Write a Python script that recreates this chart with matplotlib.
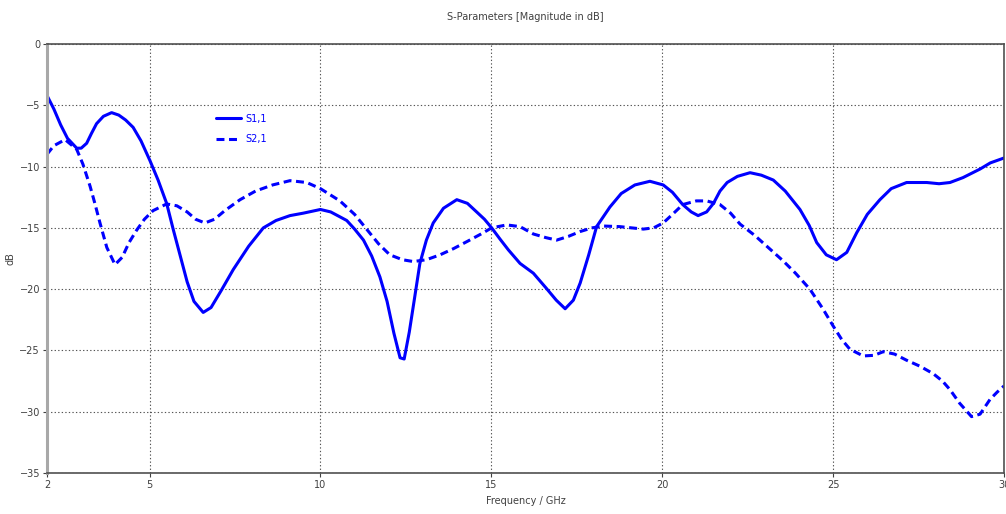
import numpy as np
import matplotlib
import matplotlib.pyplot as plt

matplotlib.use('Agg')

# S1,1 (GHz, dB)
f_s11 = [2.0, 2.2, 2.4, 2.6, 2.87, 3.0, 3.16, 3.3, 3.45, 3.65, 3.89, 4.1, 4.3, 4.52, 4.75,
         5.01, 5.25, 5.5, 5.7, 5.9, 6.1, 6.3, 6.57, 6.8, 7.1, 7.45, 7.9, 8.33, 8.7, 9.11,
         9.5, 10.0, 10.3, 10.57, 10.77, 11.0, 11.26, 11.5, 11.74, 11.95, 12.15, 12.33,
         12.45, 12.6, 12.75, 12.91, 13.1, 13.3, 13.6, 13.99, 14.3, 14.57, 14.8, 15.01,
         15.25, 15.5, 15.84, 16.23, 16.6, 16.9, 17.16, 17.4, 17.6, 17.85, 18.08, 18.47,
         18.8, 19.2, 19.64, 20.03, 20.3, 20.6, 20.85, 21.05, 21.3, 21.5, 21.69, 21.9,
         22.2, 22.57, 22.9, 23.25, 23.6, 24.03, 24.3, 24.52, 24.8, 25.1, 25.4, 25.69,
         26.0, 26.37, 26.7, 27.15, 27.74, 28.1, 28.42, 28.8, 29.3, 29.6, 30.0]
s11 = [-4.2, -5.3, -6.6, -7.7, -8.5, -8.5, -8.1, -7.3, -6.5, -5.9, -5.6, -5.8, -6.2, -6.8, -7.9,
       -9.5, -11.1, -13.0, -15.2, -17.3, -19.4, -21.0, -21.9, -21.5, -20.1, -18.4, -16.5,
       -15.0, -14.4, -14.0, -13.8, -13.5, -13.7, -14.1, -14.4, -15.1, -16.0, -17.3, -19.0,
       -21.0, -23.6, -25.6, -25.7, -23.5, -20.8, -17.9, -16.0, -14.6, -13.4, -12.7, -13.0,
       -13.7, -14.3, -15.0, -15.9, -16.8, -17.9, -18.7, -19.9, -20.9, -21.6, -20.9, -19.5,
       -17.2, -14.9, -13.3, -12.2, -11.5, -11.2, -11.5, -12.1, -13.1, -13.7, -14.0, -13.7,
       -13.0, -12.0, -11.3, -10.8, -10.5, -10.7, -11.1, -12.0, -13.5, -14.8, -16.2, -17.2,
       -17.6, -17.0, -15.4, -13.9, -12.7, -11.8, -11.3, -11.3, -11.4, -11.3, -10.9, -10.2,
       -9.7, -9.3]

# S2,1 (GHz, dB)
f_s21 = [2.0, 2.2, 2.53, 2.87, 3.05, 3.26, 3.4, 3.55, 3.75, 3.99, 4.2, 4.4, 4.62, 4.85,
         5.1, 5.5, 5.8, 6.1, 6.35, 6.62, 6.9, 7.2, 7.65, 8.1, 8.6, 9.11, 9.6, 10.0, 10.57,
         11.0, 11.35, 11.7, 12.03, 12.4, 12.72, 13.1, 13.5, 13.89, 14.3, 14.7, 15.01,
         15.45, 15.84, 16.23, 16.6, 16.91, 17.25, 17.6, 17.95, 18.28, 18.76, 19.1, 19.45,
         19.75, 20.03, 20.3, 20.6, 21.0, 21.3, 21.69, 22.0, 22.28, 22.7, 23.06, 23.54,
         23.9, 24.32, 24.7, 25.0, 25.25, 25.49, 25.88, 26.2, 26.47, 26.8, 27.15, 27.55,
         27.93, 28.2, 28.42, 28.7, 29.05, 29.3, 29.59, 29.8, 30.0]
s21 = [-9.0, -8.3, -7.8, -8.6, -9.8, -11.6, -13.0, -14.6, -16.6, -18.0, -17.4, -16.2, -15.2,
       -14.3, -13.6, -13.05, -13.2, -13.7, -14.3, -14.6, -14.3, -13.6, -12.7, -12.0, -11.5,
       -11.15, -11.3, -11.8, -12.8, -13.9, -15.1, -16.3, -17.2, -17.6, -17.75, -17.6, -17.2,
       -16.7, -16.1, -15.5, -15.0, -14.76, -14.9, -15.5, -15.8, -16.0, -15.7, -15.3, -15.0,
       -14.85, -14.9, -15.0, -15.1, -15.0, -14.6, -13.9, -13.1, -12.8, -12.8, -13.1, -13.8,
       -14.7, -15.6, -16.5, -17.7, -18.7, -20.0, -21.6, -23.0, -24.1, -24.9, -25.45, -25.4,
       -25.1, -25.3, -25.8, -26.3, -26.9, -27.5, -28.2, -29.3, -30.4, -30.2, -29.0, -28.4,
       -27.9]

x_ticks = [2, 5, 10, 15, 20, 25, 30]
y_ticks = [0, -5, -10, -15, -20, -25, -30, -35]

txt = '#404040'
fig = plt.figure(figsize=(10.06, 5.14), dpi=100)
ax = fig.add_axes([47 / 1006, 1 - 473 / 514, 957 / 1006, 429 / 514])

ax.plot(f_s11, s11, color='#0000ff', lw=2.2, label='S1,1', solid_capstyle='round')
ax.plot(f_s21, s21, color='#0000ff', lw=2.2, ls=(0, (2.6, 1.5)), label='S2,1')

ax.set_xlim(2, 30)
ax.set_ylim(-35, 0)
ax.set_xticks(x_ticks)
ax.set_yticks(y_ticks)
ax.tick_params(labelsize=7, colors=txt, length=3, width=0.8, pad=2)
ax.grid(True, ls=(0, (1.2, 2)), color='#555555', lw=0.8)

for s in ['top', 'right', 'bottom']:
    ax.spines[s].set_color('#505050')
    ax.spines[s].set_linewidth(1.2)
ax.spines['left'].set_color('#a8a8a8')
ax.spines['left'].set_linewidth(2.2)

ax.set_title('S-Parameters [Magnitude in dB]', fontsize=7, color=txt, pad=17)
ax.set_xlabel('Frequency / GHz', fontsize=7, color=txt, labelpad=4)
ax.set_ylabel('dB', fontsize=7, color=txt)
ax.yaxis.set_label_coords(-32 / 957, 0.5)

leg = ax.legend(loc='upper left', bbox_to_anchor=(0.165, 0.862), fontsize=7,
                handlelength=2.6, handletextpad=0.5, labelspacing=1.05,
                frameon=True, fancybox=False, borderpad=0.6)
leg.get_frame().set_facecolor('white')
leg.get_frame().set_edgecolor('none')
leg.get_frame().set_alpha(1)
for t in leg.get_texts():
    t.set_color('#0000ff')

plt.savefig('out.png', dpi=100)
